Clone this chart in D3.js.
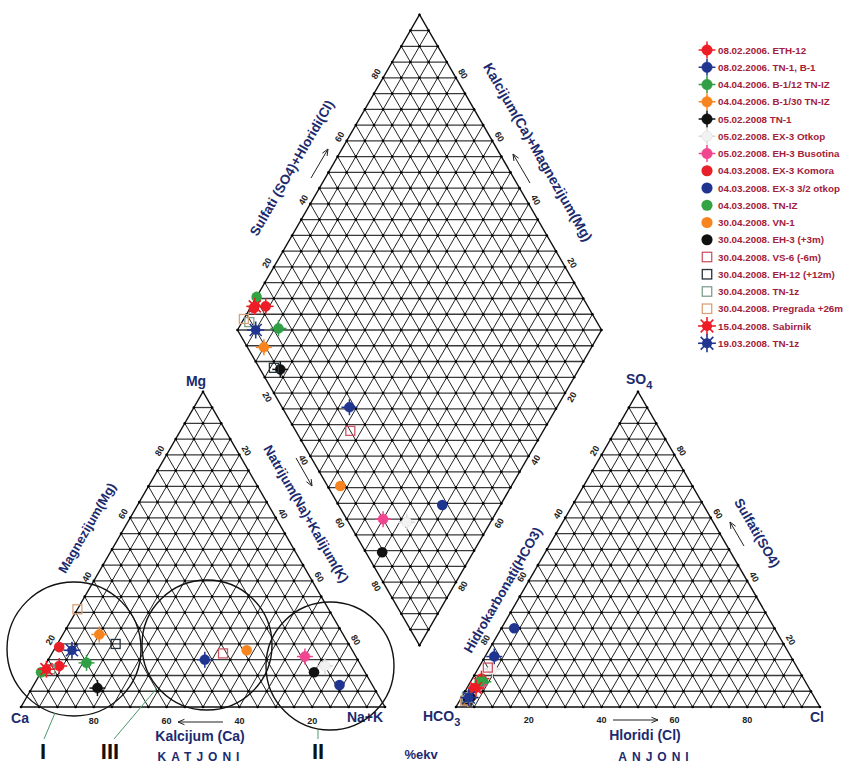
<!DOCTYPE html>
<html><head><meta charset="utf-8">
<script src="https://cdn.jsdelivr.net/npm/d3@7"></script>
<style>body{margin:0;background:#fff}svg{display:block}</style>
</head><body>
<svg id="c" width="847" height="767"></svg>
<script>
// ---------------- DATA ----------------
const sampleNames = ["08.02.2006. ETH-12","08.02.2006. TN-1, B-1","04.04.2006. B-1/12 TN-IZ","04.04.2006. B-1/30 TN-IZ",
  "05.02.2008 TN-1","05.02.2008. EX-3 Otkop","05.02.2008. EH-3 Busotina","04.03.2008. EX-3 Komora",
  "04.03.2008. EX-3 3/2 otkop","04.03.2008. TN-IZ","30.04.2008. VN-1","30.04.2008. EH-3 (+3m)",
  "30.04.2008. VS-6 (-6m)","30.04.2008. EH-12 (+12m)","30.04.2008. TN-1z","30.04.2008. Pregrada +26m",
  "15.04.2008. Sabirnik","19.03.2008. TN-1z"];
const sampleColors = ["#ee1c24","#1f3590","#2f9e44","#f7841f","#111111","#f2f2f2","#f0458f","#e8202a",
  "#1f3590","#34a343","#f7841f","#111111","#cc5566","#26323a","#7f9e8e","#d9a27a","#ee1c24","#1f3590"];
const sampleMarkers = ["cross","cross","cross","cross","cross","cross","cross","circle","circle","circle","circle","circle",
  "square","square","square","square","star","star"];
// cations (% ekv)
const cationMg = [13,15,14,23,6,13,16,19,7,11,18,11,17,20,12,31,12,18];
const cationNa = [4,43,11,10,18,77,70,1,84,0,53,75,47,16,2,0,1,5];
// anions (% ekv)
const anionSO4 = [9,16,8,2.5,3,12,7,6,25,8,2,2.5,12.5,2,3,2,6,3];
const anionCl  = [2.5,2.5,3.5,2,2.5,4,3,2,3.5,2.5,1.5,2,2.5,2,1.5,1.5,2.5,2];
const tickValues = [20,40,60,80];

// ---------------- GEOMETRY ----------------
const svg = d3.select("#c");
const S = 364, H = S*Math.sqrt(3)/2;
const u = d3.scaleLinear().domain([0,100]).range([0,S]);
const v = d3.scaleLinear().domain([0,100]).range([0,H]);
const CAT = {x:21, y:707}, AN = {x:456, y:707}, DIA = {x:237.5, y:330};
const NAVY = "#1c2a6e";

function triPt(o, r, t){ return [o.x + u(r) + u(t)/2, o.y - v(t)]; }
function diaPt(a, c){ return [DIA.x + u(a+c)/2, DIA.y + v(c-a)]; }

const gGrid = svg.append("g");
function seg(p, q, horiz){
  gGrid.append("line").attr("x1",p[0]).attr("y1",p[1]).attr("x2",q[0]).attr("y2",q[1])
    .attr("stroke", horiz ? "#3a3a3a" : "#151515").attr("stroke-width", horiz ? 1.3 : 0.95);
}
function triGrid(o){
  for(let i=1;i<20;i++){
    const f=i*5;
    seg(triPt(o,0,f), triPt(o,100-f,f), true);
    seg(triPt(o,f,0), triPt(o,f,100-f));
    seg(triPt(o,100-f,0), triPt(o,0,100-f));
  }
  const pts=[triPt(o,0,0),triPt(o,100,0),triPt(o,0,100)];
  gGrid.append("polygon").attr("points",pts.map(p=>p.join(",")).join(" "))
    .attr("fill","none").attr("stroke","#111").attr("stroke-width",1.4);
  for(let i=0;i<=20;i++) for(let j=0;i+j<=20;j++){
    const p=triPt(o,i*5,j*5);
    gGrid.append("circle").attr("cx",p[0]).attr("cy",p[1]).attr("r",1.3).attr("fill","#000");
  }
}
function diaGrid(){
  for(let i=1;i<20;i++){
    const f=i*5;
    seg(diaPt(f,0), diaPt(f,100));
    seg(diaPt(0,f), diaPt(100,f));
  }
  for(let k=-19;k<=19;k++){
    const d=k*5;
    if(d>=0) seg(diaPt(0,d), diaPt(100-d,100), true);
    else seg(diaPt(-d,0), diaPt(100,100+d), true);
  }
  const pts=[diaPt(0,0),diaPt(100,0),diaPt(100,100),diaPt(0,100)];
  gGrid.append("polygon").attr("points",pts.map(p=>p.join(",")).join(" "))
    .attr("fill","none").attr("stroke","#111").attr("stroke-width",1.4);
  for(let i=0;i<=20;i++) for(let j=0;j<=20;j++){
    const p=diaPt(i*5,j*5);
    gGrid.append("circle").attr("cx",p[0]).attr("cy",p[1]).attr("r",1.3).attr("fill","#000");
  }
}
triGrid(CAT); triGrid(AN); diaGrid();

// ---------------- TICK LABELS ----------------
const gT = svg.append("g").attr("font-family","Liberation Sans, Arial, sans-serif")
  .attr("font-size",9).attr("font-weight","bold").attr("fill","#222");
function tick(p, nx, ny, rot, txt, off=8){
  const x=p[0]+nx*off, y=p[1]+ny*off;
  gT.append("text").attr("x",x).attr("y",y).attr("text-anchor","middle").attr("dominant-baseline","central")
    .attr("transform",`rotate(${rot},${x},${y})`).text(txt);
}
const nL=[-0.866,-0.5], nR=[0.866,-0.5];
tickValues.forEach(t=>{
  tick(triPt(CAT,100-t,0),0,1,0,t,14);           // Ca along base
  tick(triPt(CAT,0,t),nL[0],nL[1],-60,t);        // Mg left side
  tick(triPt(CAT,t,100-t),nR[0],nR[1],60,t);     // Na+K right side
  tick(triPt(AN,t,0),0,1,0,t,13);                // Cl along base
  tick(triPt(AN,0,100-t),nL[0],nL[1],-60,t);     // HCO3 left side
  tick(triPt(AN,100-t,t),nR[0],nR[1],60,t);      // SO4 right side
  tick(diaPt(t,0),nL[0],nL[1],-60,t);            // SO4+Cl
  tick(diaPt(100,100-t),nR[0],nR[1],60,t);       // Ca+Mg
  tick(diaPt(0,t),-0.866,0.5,60,t);              // Na+K
  tick(diaPt(100-t,100),0.866,0.5,-60,t);        // HCO3
});

// ---------------- AXIS TITLES ----------------
const gA = svg.append("g").attr("font-family","Liberation Sans, Arial, sans-serif")
  .attr("font-weight","bold").attr("fill",NAVY);
function lab(x,y,txt,size,rot=0,anchor="middle",ls=0){
  return gA.append("text").attr("x",x).attr("y",y).attr("font-size",size).attr("text-anchor",anchor)
    .attr("dominant-baseline","central").attr("letter-spacing",ls)
    .attr("transform",`rotate(${rot},${x},${y})`).text(txt);
}
lab(292,168,"Sulfati (SO4)+Hloridi(Cl)",13.5,-60);
lab(538,152,"Kalcijum(Ca)+Magnezijum(Mg)",14,60);
lab(306,514,"Natrijum(Na)+Kalijum(K)",13.5,60);
lab(503,590,"Hidrokarbonati(HCO3)",13.5,-60);
lab(87,528,"Magnezijum(Mg)",13,-60);
lab(757,533,"Sulfati(SO4)",13.5,60);
lab(196,381,"Mg",14);
lab(20,718,"Ca",14);
lab(365,717,"Na+K",14);
lab(817,717,"Cl",14);
lab(200,736,"Kalcijum (Ca)",14);
lab(201,757,"KATJONI",12,0,"middle",5);
lab(645,735,"Hloridi (Cl)",14);
lab(656,757,"ANJONI",12,0,"middle",5);
lab(421,754,"%ekv",13);
const hco = gA.append("text").attr("x",423).attr("y",721).attr("font-size",14);
hco.append("tspan").text("HCO");
hco.append("tspan").attr("font-size",11).attr("dy",5).text("3");
const so4 = gA.append("text").attr("x",626).attr("y",384).attr("font-size",14);
so4.append("tspan").text("SO");
so4.append("tspan").attr("font-size",11).attr("dy",5).text("4");

// arrows
const gArr = svg.append("g").attr("stroke","#222").attr("stroke-width",1).attr("fill","none");
function arrow(x1,y1,x2,y2){
  gArr.append("line").attr("x1",x1).attr("y1",y1).attr("x2",x2).attr("y2",y2);
  const ang=Math.atan2(y2-y1,x2-x1), L=7, w=0.4;
  gArr.append("path").attr("d",`M${x2-L*Math.cos(ang-w)},${y2-L*Math.sin(ang-w)} L${x2},${y2} L${x2-L*Math.cos(ang+w)},${y2-L*Math.sin(ang+w)}`);
}
arrow(223,722,178,722);
arrow(613,720,658,720);
arrow(311,178,328,149);
arrow(530,183,513,154);
arrow(296,458,312,486);
arrow(744,546,730,522);

// ---------------- GROUP CIRCLES ----------------
const gC = svg.append("g").attr("fill","none");
gC.append("circle").attr("cx",74).attr("cy",649).attr("r",67).attr("stroke","#111").attr("stroke-width",1.4);
gC.append("circle").attr("cx",207).attr("cy",645).attr("r",65).attr("stroke","#111").attr("stroke-width",1.4);
gC.append("circle").attr("cx",330).attr("cy",666).attr("r",64).attr("stroke","#111").attr("stroke-width",1.4);
gC.append("line").attr("x1",55).attr("y1",713).attr("x2",44).attr("y2",739).attr("stroke","#4a9a6a").attr("stroke-width",1);
gC.append("line").attr("x1",157).attr("y1",688).attr("x2",114).attr("y2",739).attr("stroke","#4a9a6a").attr("stroke-width",1);
gC.append("line").attr("x1",318).attr("y1",730).attr("x2",318).attr("y2",739).attr("stroke","#4a9a6a").attr("stroke-width",1);
const gR = svg.append("g").attr("font-family","Liberation Sans, Arial, sans-serif").attr("font-weight","bold")
  .attr("font-size",22).attr("fill","#111").attr("text-anchor","middle");
gR.append("text").attr("x",43).attr("y",759).text("I");
gR.append("text").attr("x",110).attr("y",759).text("III");
gR.append("text").attr("x",318).attr("y",759).text("II");

// ---------------- MARKERS ----------------
function marker(g, type, col, x, y, s=1){
  const stroke = col==="#f2f2f2" ? "#d8d8d8" : col;
  if(type==="cross"){
    g.append("line").attr("x1",x-8*s).attr("x2",x+8*s).attr("y1",y).attr("y2",y).attr("stroke",stroke).attr("stroke-width",1.5);
    g.append("line").attr("x1",x).attr("x2",x).attr("y1",y-8*s).attr("y2",y+8*s).attr("stroke",stroke).attr("stroke-width",1.5);
    g.append("circle").attr("cx",x).attr("cy",y).attr("r",5*s).attr("fill",col).attr("stroke",stroke).attr("stroke-width",0.5);
  } else if(type==="circle"){
    g.append("circle").attr("cx",x).attr("cy",y).attr("r",5.3*s).attr("fill",col);
  } else if(type==="square"){
    g.append("rect").attr("x",x-4.5*s).attr("y",y-4.5*s).attr("width",9*s).attr("height",9*s)
      .attr("fill","none").attr("stroke",col).attr("stroke-width",1.3);
  } else if(type==="star"){
    for(let k=0;k<8;k++){
      const a=k*Math.PI/4;
      g.append("line").attr("x1",x).attr("y1",y).attr("x2",x+8.5*s*Math.cos(a)).attr("y2",y+8.5*s*Math.sin(a))
        .attr("stroke",col).attr("stroke-width",1.6);
    }
    g.append("circle").attr("cx",x).attr("cy",y).attr("r",4.8*s).attr("fill",col);
  }
}
const gM = svg.append("g");
sampleNames.forEach((n,i)=>{
  const ca = triPt(CAT, cationNa[i], cationMg[i]);
  const an = triPt(AN, anionCl[i], anionSO4[i]);
  const dp = diaPt(anionSO4[i]+anionCl[i], cationNa[i]);
  [ca,an,dp].forEach(p=>marker(gM, sampleMarkers[i], sampleColors[i], p[0], p[1]));
});

// ---------------- LEGEND ----------------
const gL = svg.append("g");
sampleNames.forEach((n,i)=>{
  const y = 50 + i*17.25;
  marker(gL, sampleMarkers[i], sampleColors[i], 707, y, 1.05);
  gL.append("text").attr("x",718).attr("y",y).attr("dominant-baseline","central")
    .attr("font-family","Liberation Sans, Arial, sans-serif").attr("font-weight","bold").attr("font-size",9.8)
    .attr("fill","#a3213a").text(n);
});
</script>
</body></html>
